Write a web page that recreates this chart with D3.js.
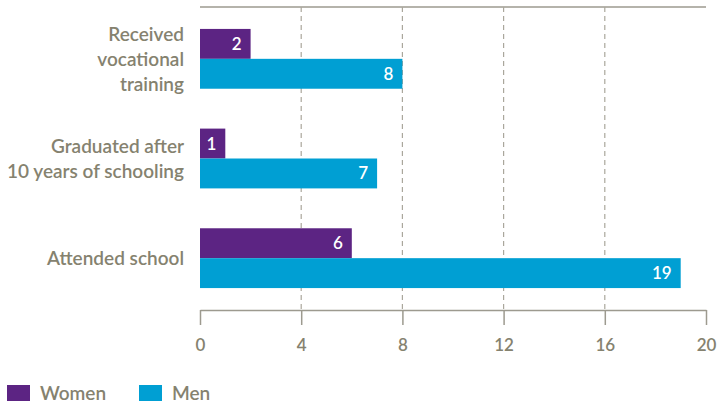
<!DOCTYPE html>
<html>
<head>
<meta charset="utf-8">
<script src="https://cdn.jsdelivr.net/npm/d3@7"></script>
<style>
  body { margin: 0; background: #fff; }
  svg { display: block; font-family: Lato, "Open Sans", sans-serif; }
</style>
</head>
<body>
<svg id="chart" width="721" height="405"></svg>
<script>
// chart data
var categories = ['Received vocational training', 'Graduated after 10 years of schooling', 'Attended school'];
var categoryLines = [['Received', 'vocational', 'training'], ['Graduated after', '10 years of schooling'], ['Attended school']];
var series = ['Women', 'Men'];
var women = [2, 1, 6];
var men = [8, 7, 19];
var ticks = [0, 4, 8, 12, 16, 20];

var colors = { Women: '#5c2483', Men: '#009fd3' },
  grey = '#85826f',
  lineGrey = '#9d9a8f';

var svg = d3.select('#chart'),
  plotTop = 7, plotBottom = 310, plotLeft = 200, plotRight = 706;

var x = d3.scaleLinear().domain([0, 20]).range([plotLeft, plotRight]);
var y = d3.scaleBand().domain(categories).range([plotTop, plotBottom]).paddingInner(0.40).paddingOuter(0.22);
var sub = d3.scaleBand().domain(series).range([0, y.bandwidth()]);

// top line
svg.append('line')
  .attr('x1', plotLeft).attr('x2', plotRight)
  .attr('y1', plotTop).attr('y2', plotTop)
  .attr('stroke', lineGrey).attr('stroke-width', 1.5);

// dashed grid
svg.selectAll('line.grid').data(ticks.slice(1, -1)).enter().append('line')
  .attr('class', 'grid')
  .attr('x1', function (d) { return x(d); }).attr('x2', function (d) { return x(d); })
  .attr('y1', plotTop).attr('y2', plotBottom)
  .attr('stroke', '#aaa79c').attr('stroke-width', 1.2)
  .attr('stroke-dasharray', '5,4');

// bars
var rows = categories.map(function (c, i) {
  return [{ cat: c, s: 'Women', v: women[i] }, { cat: c, s: 'Men', v: men[i] }];
});
var g = svg.selectAll('g.row').data(rows).enter().append('g')
  .attr('class', 'row')
  .attr('transform', function (d) { return 'translate(0,' + y(d[0].cat) + ')'; });

g.selectAll('rect').data(function (d) { return d; }).enter().append('rect')
  .attr('x', x(0))
  .attr('y', function (d) { return sub(d.s); })
  .attr('width', function (d) { return x(d.v) - x(0); })
  .attr('height', sub.bandwidth())
  .attr('fill', function (d) { return colors[d.s]; });

g.selectAll('text.val').data(function (d) { return d; }).enter().append('text')
  .attr('class', 'val')
  .attr('x', function (d) { return x(d.v) - 9; })
  .attr('y', function (d) { return sub(d.s) + sub.bandwidth() / 2 + 6; })
  .attr('text-anchor', 'end')
  .attr('fill', '#fff')
  .attr('font-size', 17)
  .attr('font-weight', 600)
  .text(function (d) { return d.v; });

// category labels
categories.forEach(function (c, i) {
  var lines = categoryLines[i],
    cy = y(c) + y.bandwidth() / 2,
    start = cy - (lines.length - 1) * 25 / 2 + 7;
  var t = svg.append('text')
    .attr('text-anchor', 'end')
    .attr('fill', grey)
    .attr('font-size', 19)
    .attr('font-weight', 600);
  lines.forEach(function (l, j) {
    t.append('tspan').attr('x', 184).attr('y', start + j * 25).text(l);
  });
});

// x axis
var axis = svg.append('g')
  .attr('transform', 'translate(0,' + plotBottom + ')')
  .call(d3.axisBottom(x).tickValues(ticks).tickSize(15).tickSizeOuter(0).tickPadding(14));
axis.select('.domain').attr('stroke', lineGrey).attr('stroke-width', 1.5);
axis.selectAll('.tick line').attr('stroke', lineGrey).attr('stroke-width', 1.5);
axis.selectAll('.tick text')
  .attr('fill', grey)
  .attr('font-size', 17)
  .attr('font-weight', 600)
  .attr('font-family', 'Lato, sans-serif');

// legend
var legend = svg.selectAll('g.legend').data(series).enter().append('g')
  .attr('class', 'legend')
  .attr('transform', function (d, i) { return 'translate(' + (7 + i * 132) + ',385)'; });
legend.append('rect')
  .attr('width', 23).attr('height', 16)
  .attr('fill', function (d) { return colors[d]; });
legend.append('text')
  .attr('x', 33).attr('y', 15)
  .attr('fill', grey)
  .attr('font-size', 19)
  .attr('font-weight', 600)
  .text(function (d) { return d; });
</script>
</body>
</html>
